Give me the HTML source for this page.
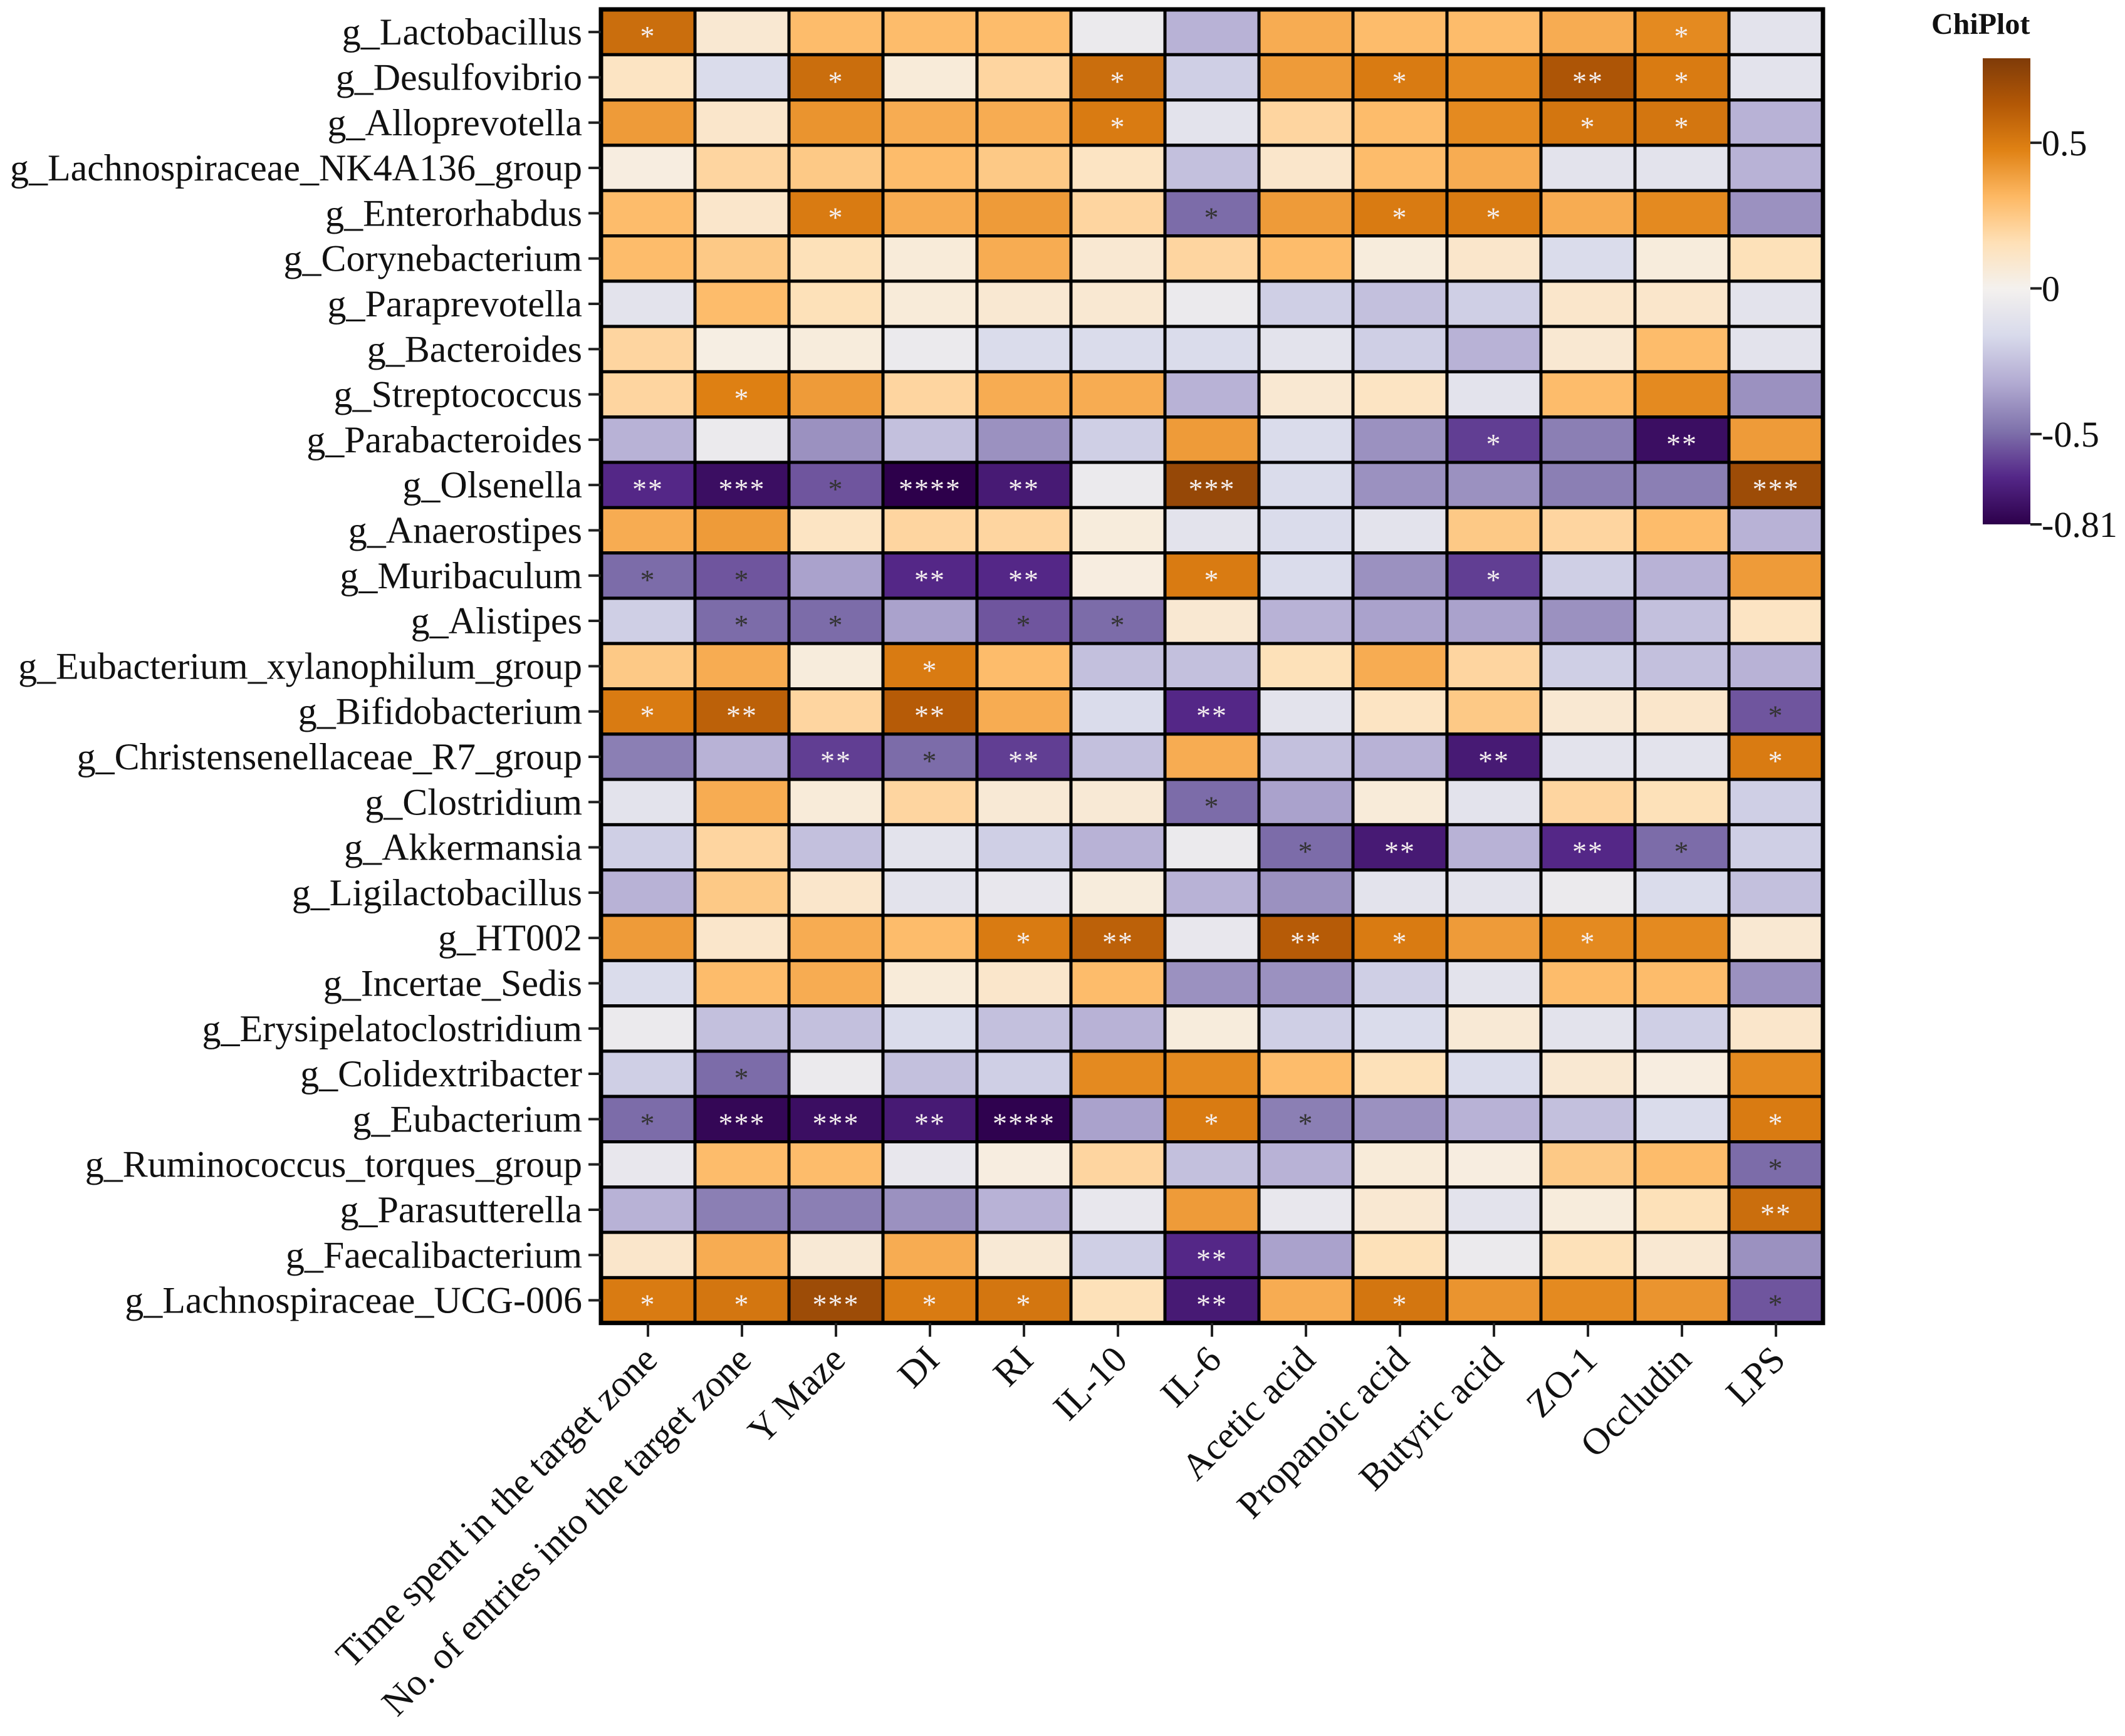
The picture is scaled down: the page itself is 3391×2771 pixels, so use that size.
<!DOCTYPE html>
<html><head><meta charset="utf-8"><style>
html,body{margin:0;padding:0;background:#fff;}
svg{display:block;}
svg text{font-family:"Liberation Serif","Times New Roman",serif;}
</style></head><body>
<svg id="chart" width="3391" height="2771" viewBox="0 0 3391 2771" xmlns="http://www.w3.org/2000/svg" font-family="Liberation Serif, serif">
<defs>
<linearGradient id="cbar" x1="0" y1="1" x2="0" y2="0"></linearGradient>
</defs>
<g id="cells"></g>
<g id="ylab"></g>
<g id="xlab"></g>
<g id="legend"></g>
</svg>
<script>
const rows = ["g_Lactobacillus","g_Desulfovibrio","g_Alloprevotella","g_Lachnospiraceae_NK4A136_group","g_Enterorhabdus","g_Corynebacterium","g_Paraprevotella","g_Bacteroides","g_Streptococcus","g_Parabacteroides","g_Olsenella","g_Anaerostipes","g_Muribaculum","g_Alistipes","g_Eubacterium_xylanophilum_group","g_Bifidobacterium","g_Christensenellaceae_R7_group","g_Clostridium","g_Akkermansia","g_Ligilactobacillus","g_HT002","g_Incertae_Sedis","g_Erysipelatoclostridium","g_Colidextribacter","g_Eubacterium","g_Ruminococcus_torques_group","g_Parasutterella","g_Faecalibacterium","g_Lachnospiraceae_UCG-006"];
const cols = ["Time spent in the target zone","No. of entries into the target zone","Y Maze","DI","RI","IL-10","IL-6","Acetic acid","Propanoic acid","Butyric acid","ZO-1","Occludin","LPS"];
const values = [
[0.55,0.08,0.3,0.3,0.3,-0.05,-0.3,0.35,0.3,0.3,0.35,0.45,-0.1],
[0.12,-0.15,0.55,0.06,0.2,0.55,-0.2,0.4,0.5,0.45,0.65,0.5,-0.1],
[0.4,0.1,0.42,0.35,0.35,0.5,-0.1,0.2,0.3,0.45,0.52,0.52,-0.3],
[0.04,0.2,0.25,0.3,0.25,0.12,-0.25,0.1,0.3,0.35,-0.1,-0.1,-0.3],
[0.3,0.1,0.5,0.35,0.4,0.2,-0.5,0.4,0.5,0.5,0.35,0.45,-0.4],
[0.3,0.25,0.15,0.06,0.35,0.08,0.2,0.3,0.05,0.1,-0.15,0.05,0.15],
[-0.1,0.3,0.15,0.06,0.08,0.08,-0.05,-0.2,-0.25,-0.2,0.1,0.1,-0.1],
[0.2,0.03,0.05,-0.05,-0.15,-0.15,-0.15,-0.1,-0.2,-0.3,0.08,0.3,-0.1],
[0.2,0.48,0.4,0.2,0.35,0.35,-0.3,0.08,0.12,-0.1,0.3,0.45,-0.4],
[-0.3,-0.05,-0.4,-0.25,-0.4,-0.2,0.4,-0.15,-0.4,-0.6,-0.45,-0.75,0.4],
[-0.65,-0.75,-0.55,-0.81,-0.7,-0.05,0.72,-0.15,-0.4,-0.4,-0.45,-0.45,0.7],
[0.35,0.4,0.12,0.2,0.2,0.05,-0.1,-0.15,-0.1,0.25,0.2,0.3,-0.3],
[-0.5,-0.55,-0.35,-0.65,-0.65,0.04,0.5,-0.15,-0.4,-0.6,-0.2,-0.3,0.4],
[-0.2,-0.5,-0.5,-0.35,-0.55,-0.5,0.08,-0.3,-0.35,-0.35,-0.4,-0.25,0.12],
[0.25,0.35,0.05,0.5,0.3,-0.25,-0.25,0.15,0.35,0.2,-0.2,-0.25,-0.3],
[0.5,0.6,0.2,0.62,0.35,-0.15,-0.65,-0.1,0.12,0.25,0.08,0.1,-0.55],
[-0.45,-0.3,-0.6,-0.5,-0.6,-0.25,0.35,-0.25,-0.3,-0.7,-0.1,-0.1,0.5],
[-0.1,0.35,0.06,0.2,0.07,0.07,-0.5,-0.35,0.06,-0.1,0.2,0.15,-0.2],
[-0.2,0.2,-0.25,-0.1,-0.2,-0.3,-0.05,-0.5,-0.7,-0.3,-0.65,-0.5,-0.2],
[-0.3,0.25,0.1,-0.1,-0.07,0.05,-0.3,-0.4,-0.1,-0.1,-0.05,-0.15,-0.25],
[0.4,0.1,0.35,0.3,0.5,0.6,-0.07,0.62,0.5,0.4,0.45,0.45,0.08],
[-0.15,0.3,0.35,0.06,0.1,0.3,-0.4,-0.4,-0.2,-0.1,0.3,0.3,-0.4],
[-0.05,-0.25,-0.25,-0.15,-0.25,-0.3,0.05,-0.2,-0.15,0.07,-0.1,-0.2,0.1],
[-0.2,-0.5,-0.05,-0.25,-0.2,0.45,0.45,0.3,0.15,-0.15,0.08,0.04,0.45],
[-0.5,-0.78,-0.75,-0.7,-0.8,-0.35,0.5,-0.45,-0.4,-0.3,-0.25,-0.15,0.5],
[-0.07,0.3,0.3,-0.07,0.04,0.2,-0.25,-0.3,0.06,0.04,0.25,0.3,-0.5],
[-0.3,-0.45,-0.45,-0.4,-0.3,-0.07,0.4,-0.07,0.08,-0.1,0.05,0.15,0.55],
[0.1,0.35,0.07,0.35,0.07,-0.2,-0.65,-0.35,0.15,-0.05,0.15,0.08,-0.4],
[0.5,0.52,0.7,0.5,0.52,0.15,-0.7,0.35,0.52,0.42,0.45,0.42,-0.55]
];
const stars = [
["*","","","","","","","","","","","*",""],
["","","*","","","*","","","*","","**","*",""],
["","","","","","*","","","","","*","*",""],
["","","","","","","","","","","","",""],
["","","*","","","","*","","*","*","","",""],
["","","","","","","","","","","","",""],
["","","","","","","","","","","","",""],
["","","","","","","","","","","","",""],
["","*","","","","","","","","","","",""],
["","","","","","","","","","*","","**",""],
["**","***","*","****","**","","***","","","","","","***"],
["","","","","","","","","","","","",""],
["*","*","","**","**","","*","","","*","","",""],
["","*","*","","*","*","","","","","","",""],
["","","","*","","","","","","","","",""],
["*","**","","**","","","**","","","","","","*"],
["","","**","*","**","","","","","**","","","*"],
["","","","","","","*","","","","","",""],
["","","","","","","","*","**","","**","*",""],
["","","","","","","","","","","","",""],
["","","","","*","**","","**","*","","*","",""],
["","","","","","","","","","","","",""],
["","","","","","","","","","","","",""],
["","*","","","","","","","","","","",""],
["*","***","***","**","****","","*","*","","","","","*"],
["","","","","","","","","","","","","*"],
["","","","","","","","","","","","","**"],
["","","","","","","**","","","","","",""],
["*","*","***","*","*","","**","","*","","","","*"]
];
const legendTicks = [0.5, 0, -0.5, -0.81];
const legendTickLabels = ["0.5","0","-0.5","-0.81"];
const vmin = -0.81, vmax = 0.79;

const NS="http://www.w3.org/2000/svg";
const X0=959, Y0=15, CW=150, RH=72.3;
const xPos=i=>X0+i*CW, yPos=j=>Y0+j*RH;
const stops=[[0,"#2d004b"],[0.1,"#542788"],[0.2,"#8073ac"],[0.3,"#b2abd2"],[0.4,"#d8daeb"],[0.5,"#f4f1ee"],[0.6,"#fee0b6"],[0.7,"#fdb863"],[0.8,"#e08214"],[0.9,"#b35806"],[1,"#7f3b08"]];
function hex(h){return [1,3,5].map(k=>parseInt(h.substr(k,2),16));}
function color(v){
  let t = v<0 ? 0.5*(v-vmin)/(0-vmin) : 0.5+0.5*v/vmax;
  t=Math.max(0,Math.min(1,t));
  for(let k=1;k<stops.length;k++){ if(t<=stops[k][0]){
    const a=stops[k-1],b=stops[k],f=(t-a[0])/(b[0]-a[0]);
    const ca=hex(a[1]),cb=hex(b[1]);
    return "rgb("+ca.map((c,i)=>Math.round(c+(cb[i]-c)*f)).join(",")+")";}}
  return stops[stops.length-1][1];
}
function mk(tag,attrs,parent){const e=document.createElementNS(NS,tag);for(const k in attrs)e.setAttribute(k,attrs[k]);parent.appendChild(e);return e;}
const gc=document.getElementById("cells"),gy=document.getElementById("ylab"),gx=document.getElementById("xlab"),gl=document.getElementById("legend");
values.forEach((row,j)=>row.forEach((v,i)=>{
  const r=mk("rect",{x:xPos(i),y:yPos(j),width:CW,height:RH,fill:color(v),stroke:"#000","stroke-width":5},gc);
  
  
  const s=stars[j][i];
  if(s){
    const light = v>0.3 || v<-0.58;
    const t=mk("text",{x:xPos(i)+CW/2,y:yPos(j)+RH/2+22,"text-anchor":"middle","font-size":46,fill:light?"#f5f0f0":"#333","letter-spacing":2},gc);
    t.textContent=s;
    
    
  }
}));
mk("rect",{x:X0,y:Y0,width:CW*cols.length,height:RH*rows.length,fill:"none",stroke:"#000","stroke-width":7},gc);
rows.forEach((n,j)=>{
  const cy=yPos(j)+RH/2;
  mk("line",{x1:X0-20,x2:X0,y1:cy,y2:cy,stroke:"#222","stroke-width":4},gy);
  const t=mk("text",{x:X0-30,y:cy+20,"text-anchor":"end","font-size":60,fill:"#111"},gy);
  t.textContent=n;
  
  
});
const YB=Y0+RH*rows.length;
cols.forEach((n,i)=>{
  const cx=xPos(i)+CW/2;
  mk("line",{x1:cx,x2:cx,y1:YB,y2:YB+22,stroke:"#222","stroke-width":4},gx);
  const t=mk("text",{x:cx+18,y:YB+62,"text-anchor":"end","font-size":60,fill:"#111",transform:`rotate(-45 ${cx+18} ${YB+62})`},gx);
  t.textContent=n;
  
  
});
// legend
const grad=document.getElementById("cbar");
const CB={x:3164,y:93,w:76,h:744};
const ly=v=> CB.y+CB.h*(vmax-v)/(vmax-vmin);
const z=(0-vmin)/(vmax-vmin);
stops.forEach(s=>{const off=s[0]<=0.5? s[0]/0.5*z : z+(s[0]-0.5)/0.5*(1-z); mk("stop",{offset:off,"stop-color":s[1]},grad);});
const cb=mk("rect",{x:CB.x,y:CB.y,width:CB.w,height:CB.h,fill:"url(#cbar)"},gl);


const tt=mk("text",{x:3082,y:54,"font-size":48,"font-weight":"bold",fill:"#111"},gl);
tt.textContent="ChiPlot";


legendTicks.forEach((v,k)=>{
  const y=ly(v);
  mk("line",{x1:CB.x+CB.w,x2:CB.x+CB.w+18,y1:y,y2:y,stroke:"#222","stroke-width":4},gl);
  const t=mk("text",{x:CB.x+CB.w+18,y:y+20,"font-size":58,fill:"#111"},gl);
  t.textContent=legendTickLabels[k];
  
  
});
</script>
</body></html>
